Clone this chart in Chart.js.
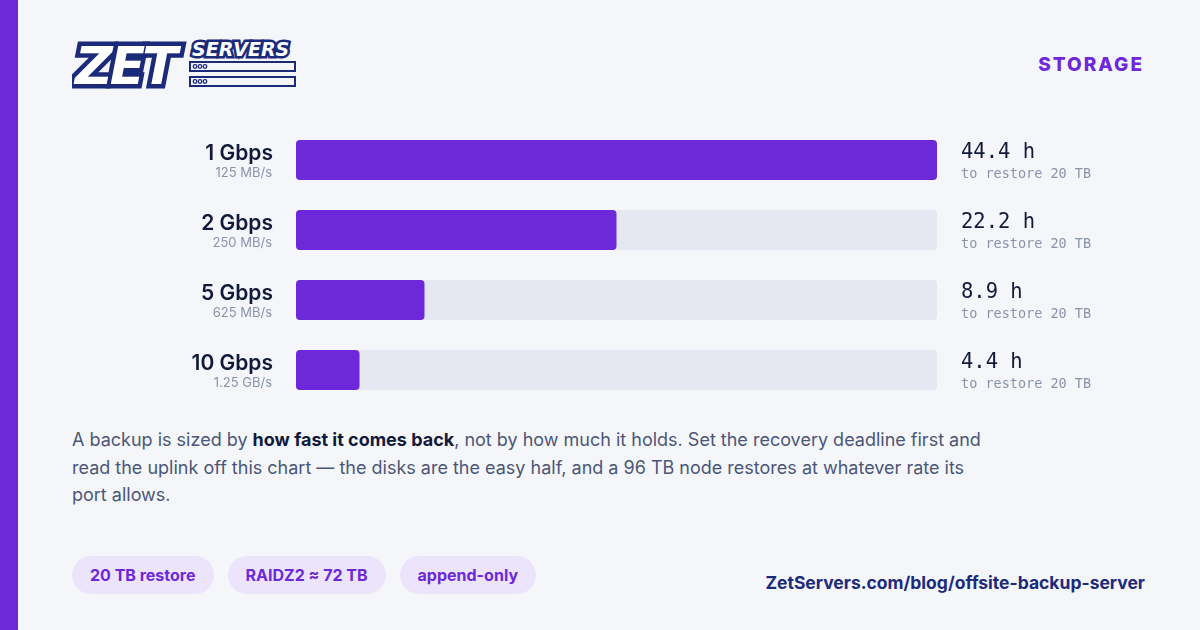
<!DOCTYPE html>
<html>
<head>
<meta charset="utf-8">
<script src="https://cdn.jsdelivr.net/npm/chart.js@4/dist/chart.umd.min.js"></script>
<style>
  body { margin: 0; width: 1200px; height: 630px; background: #f5f6fa; font-family: Inter, sans-serif; position: relative; overflow: hidden; }
  .strip { position: absolute; left: 0; top: 0; width: 18px; height: 630px; background: #6d28d9; }
  .logo { position: absolute; left: 72px; top: 36px; }
  .tag { position: absolute; right: 56px; top: 53px; color: #6d28d9; font-weight: 800; font-size: 19px; letter-spacing: 2px; }
  .chart { position: absolute; left: 60px; top: 125px; width: 1080px; height: 280px; }
  .text { position: absolute; left: 72px; top: 426px; width: 920px; color: #4b5677; font-size: 18px; line-height: 27.5px; }
  .text b { color: #111a3a; }
  .pills { position: absolute; left: 72px; top: 556px; display: flex; gap: 14px; }
  .pill { background: #ebe4fb; color: #6d28d9; font-weight: 700; font-size: 16px; padding: 0 18px; height: 38px; line-height: 38px; border-radius: 19px; }
  .url { position: absolute; right: 55px; top: 572px; color: #1c2a7a; font-weight: 700; font-size: 17.5px; }
</style>
</head>
<body>
<div class="strip"></div>
<svg class="logo" width="230" height="54" viewBox="0 0 230 54">
  <text x="3" y="48" font-family="DejaVu Sans" font-weight="bold" font-style="italic" font-size="52" fill="#fff" stroke="#1c2a7a" stroke-width="9" paint-order="stroke" letter-spacing="-3">ZET</text>
  <text x="120" y="20" font-family="DejaVu Sans" font-weight="bold" font-style="italic" font-size="19" fill="#fff" stroke="#1c2a7a" stroke-width="5" paint-order="stroke">SERVERS</text>
  <rect x="118" y="26" width="105" height="9" fill="none" stroke="#1c2a7a" stroke-width="2"/>
  <rect x="118" y="41" width="105" height="9" fill="none" stroke="#1c2a7a" stroke-width="2"/>
  <g fill="none" stroke="#1c2a7a" stroke-width="1.3">
    <circle cx="123" cy="30.5" r="1.8"/><circle cx="128" cy="30.5" r="1.8"/><circle cx="133" cy="30.5" r="1.8"/>
    <circle cx="123" cy="45.5" r="1.8"/><circle cx="128" cy="45.5" r="1.8"/><circle cx="133" cy="45.5" r="1.8"/>
  </g>
</svg>
<div class="tag">STORAGE</div>
<div class="chart"><canvas id="c"></canvas></div>
<div class="text">A backup is sized by <b>how fast it comes back</b>, not by how much it holds. Set the recovery deadline first and read the uplink off this chart — the disks are the easy half, and a 96 TB node restores at whatever rate its port allows.</div>
<div class="pills"><div class="pill">20 TB restore</div><div class="pill">RAIDZ2 ≈ 72 TB</div><div class="pill">append-only</div></div>
<div class="url">ZetServers.com/blog/offsite-backup-server</div>
<script>
// restore time for 20 TB at each uplink speed
const links = ["1 Gbps", "2 Gbps", "5 Gbps", "10 Gbps"];
const rates = ["125 MB/s", "250 MB/s", "625 MB/s", "1.25 GB/s"];
const hours = [44.4, 22.2, 8.9, 4.4];
const maxHours = 44.4;

const sideLabels = {
  id: "sideLabels",
  afterDatasetsDraw(chart) {
    const { ctx, scales: { x, y } } = chart;
    ctx.save();
    links.forEach((name, i) => {
      const cy = y.getPixelForValue(i);
      ctx.textAlign = "right";
      ctx.fillStyle = "#111a3a";
      ctx.font = "600 21px Inter";
      ctx.fillText(name, x.left - 23, cy + 0);
      ctx.fillStyle = "#8a93ab";
      ctx.font = "13px Inter";
      ctx.fillText(rates[i], x.left - 24, cy + 17);
      ctx.textAlign = "left";
      ctx.fillStyle = "#111a3a";
      ctx.font = "500 20.5px 'DejaVu Sans Mono'";
      ctx.fillText(hours[i].toFixed(1) + " h", x.right + 24, cy - 2);
      ctx.fillStyle = "#8a93ab";
      ctx.font = "13.5px 'DejaVu Sans Mono'";
      ctx.fillText("to restore 20 TB", x.right + 24, cy + 18);
    });
    ctx.restore();
  }
};

new Chart(document.getElementById("c"), {
  type: "bar",
  data: {
    labels: links,
    datasets: [
      {
        data: hours,
        backgroundColor: "#6d28d9",
        borderRadius: 4,
        borderSkipped: false,
        grouped: false,
        order: 1
      },
      {
        data: links.map(() => maxHours),
        backgroundColor: "#e6e8f1",
        borderRadius: 4,
        borderSkipped: false,
        grouped: false,
        order: 2
      }
    ]
  },
  options: {
    indexAxis: "y",
    responsive: true,
    maintainAspectRatio: false,
    animation: false,
    categoryPercentage: 1,
    barPercentage: 40 / 70,
    layout: { padding: { left: 236, right: 203, top: 0, bottom: 0 } },
    plugins: { legend: { display: false }, tooltip: { enabled: false } },
    scales: {
      x: { display: false, min: 0, max: maxHours },
      y: { display: false }
    }
  },
  plugins: [sideLabels]
});
</script>
</body>
</html>
